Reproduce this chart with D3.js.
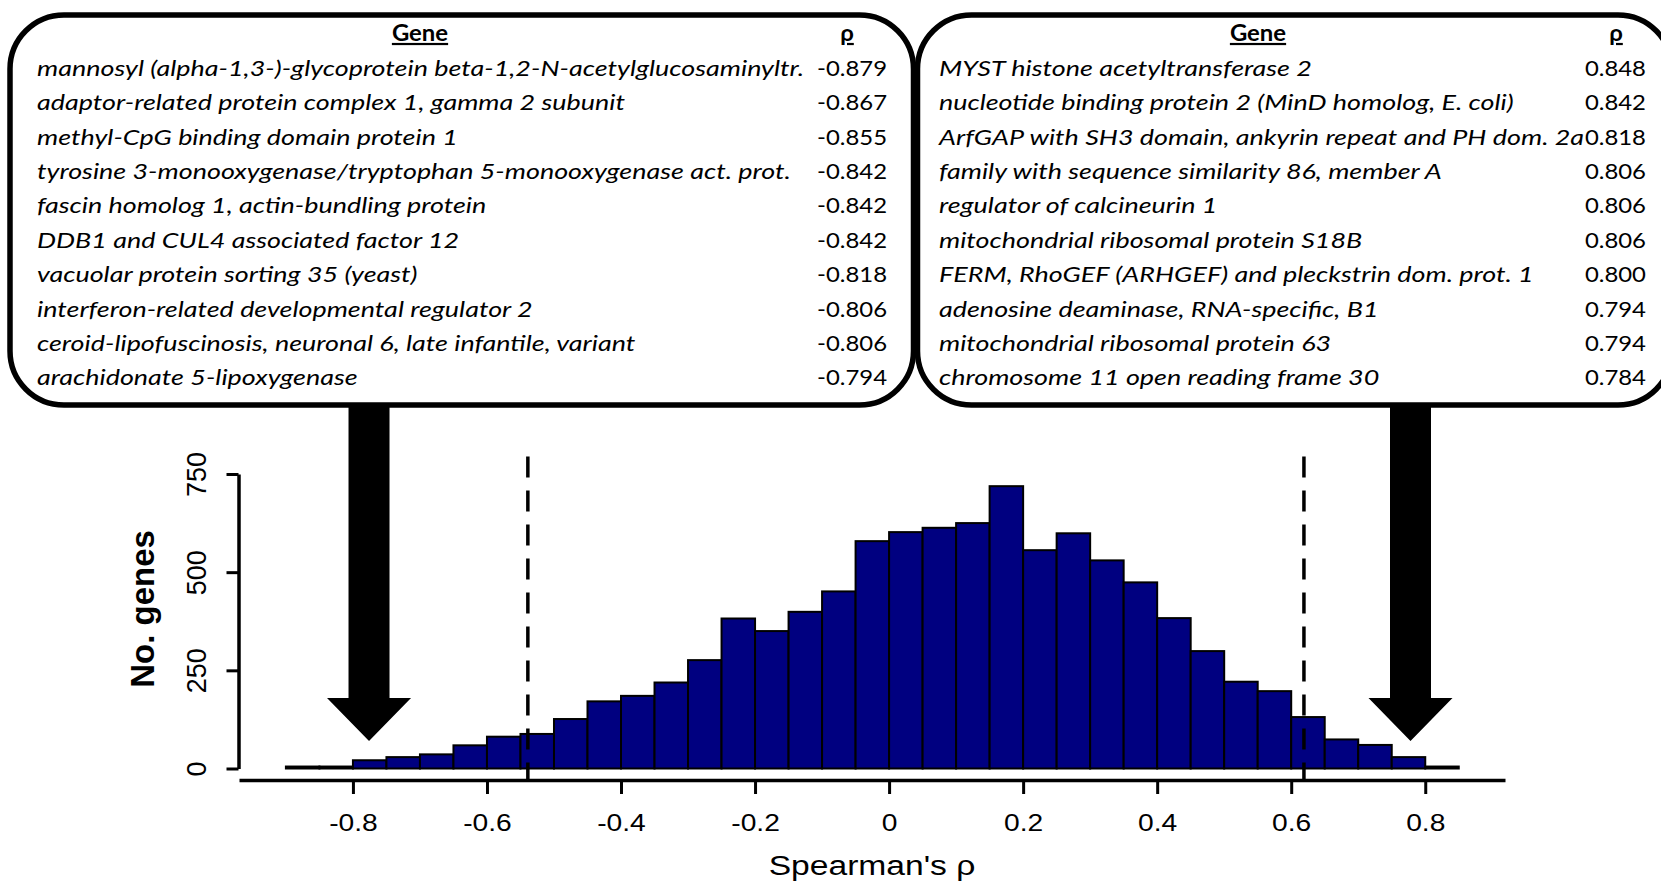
<!DOCTYPE html>
<html>
<head>
<meta charset="utf-8">
<script src="https://cdn.jsdelivr.net/npm/d3@7"></script>
<style>
body { margin: 0; background: #fff; }
svg { display: block; }
</style>
</head>
<body>
<div id="graph"></div>
<script>
// top correlated genes (left: negative, right: positive)
var negGenes = [
	'mannosyl (alpha-1,3-)-glycoprotein beta-1,2-N-acetylglucosaminyltr.',
	'adaptor-related protein complex 1, gamma 2 subunit',
	'methyl-CpG binding domain protein 1',
	'tyrosine 3-monooxygenase/tryptophan 5-monooxygenase act. prot.',
	'fascin homolog 1, actin-bundling protein',
	'DDB1 and CUL4 associated factor 12',
	'vacuolar protein sorting 35 (yeast)',
	'interferon-related developmental regulator 2',
	'ceroid-lipofuscinosis, neuronal 6, late infantile, variant',
	'arachidonate 5-lipoxygenase'
]
var negRho = ['-0.879', '-0.867', '-0.855', '-0.842', '-0.842', '-0.842', '-0.818', '-0.806', '-0.806', '-0.794']

var posGenes = [
	'MYST histone acetyltransferase 2',
	'nucleotide binding protein 2 (MinD homolog, E. coli)',
	'ArfGAP with SH3 domain, ankyrin repeat and PH dom. 2a',
	'family with sequence similarity 86, member A',
	'regulator of calcineurin 1',
	'mitochondrial ribosomal protein S18B',
	'FERM, RhoGEF (ARHGEF) and pleckstrin dom. prot. 1',
	'adenosine deaminase, RNA-specific, B1',
	'mitochondrial ribosomal protein 63',
	'chromosome 11 open reading frame 30'
]
var posRho = ['0.848', '0.842', '0.818', '0.806', '0.806', '0.806', '0.800', '0.794', '0.794', '0.784']

// histogram of Spearman's rho, bins of width 0.05
var binStarts = [-0.9, -0.85, -0.8, -0.75, -0.7, -0.65, -0.6, -0.55, -0.5, -0.45,
	-0.4, -0.35, -0.3, -0.25, -0.2, -0.15, -0.1, -0.05, 0, 0.05,
	0.1, 0.15, 0.2, 0.25, 0.3, 0.35, 0.4, 0.45, 0.5, 0.55,
	0.6, 0.65, 0.7, 0.75, 0.8]
var binCounts = [5, 5, 21, 29, 36, 59, 81, 88, 126, 171,
	185, 219, 276, 382, 350, 399, 451, 579, 602, 613,
	625, 719, 556, 599, 530, 474, 383, 299, 221, 197,
	131, 74, 60, 29, 5]
var binWidth = 0.05

var xTicks = [-0.8, -0.6, -0.4, -0.2, 0, 0.2, 0.4, 0.6, 0.8]
var yTicks = [0, 250, 500, 750]
var cutoffs = [-0.539, 0.619]
var arrowAt = [-0.776, 0.778]

var W = 1661, H = 884
var svg = d3.select('#graph').append('svg')
	.attr('width', W)
	.attr('height', H)

var x = d3.scaleLinear().domain([-0.970, 0.919]).range([239, 1505])
var y = d3.scaleLinear().domain([0, 750]).range([768.5, 474])

// ---- boxes with the gene tables
var boxes = [
	{ x0: 10, x1: 913.5, textLeft: 37, valRight: 887, geneX: 420, rhoX: 847, genes: negGenes, rho: negRho },
	{ x0: 917.5, x1: 1672, textLeft: 939, valRight: 1646, geneX: 1258, rhoX: 1616, genes: posGenes, rho: posRho }
]

svg.selectAll('rect.box')
	.data(boxes)
	.enter().append('rect')
	.attr('class', 'box')
	.attr('x', function(d) { return d.x0 })
	.attr('y', 15)
	.attr('width', function(d) { return d.x1 - d.x0 })
	.attr('height', 390)
	.attr('rx', 54)
	.attr('ry', 54)
	.attr('fill', '#fff')
	.attr('stroke', '#000')
	.attr('stroke-width', 5.5)

var tableFont = 'Lato, "Open Sans", "DejaVu Sans", sans-serif'

// work out a horizontal squeeze so the font matches the condensed original
var probe = svg.append('text')
	.attr('font-family', tableFont).attr('font-style', 'italic').attr('font-size', 22)
	.text(negGenes[0])
var kGene = 767 / probe.node().getComputedTextLength()
probe.attr('font-style', 'normal').text(negRho[0])
var kVal = 70 / probe.node().getComputedTextLength()
probe.remove()

var rowY = function(i) { return 75.7 + i * 34.4 }

boxes.forEach(function(b) {
	var g = svg.append('g')
		.attr('font-family', tableFont)
		.attr('font-size', 22)
		.attr('fill', '#000')

	g.append('text')
		.attr('transform', 'translate(' + b.geneX + ',41) scale(' + kVal + ',1)')
		.attr('text-anchor', 'middle')
		.attr('font-weight', 'bold')
		.attr('text-decoration', 'underline')
		.text('Gene')
	g.append('text')
		.attr('transform', 'translate(' + b.rhoX + ',41) scale(' + kVal + ',1)')
		.attr('text-anchor', 'middle')
		.attr('font-weight', 'bold')
		.attr('text-decoration', 'underline')
		.text('ρ')

	g.selectAll('text.gene')
		.data(b.genes)
		.enter().append('text')
		.attr('class', 'gene')
		.attr('font-style', 'italic')
		.attr('transform', function(d, i) { return 'translate(' + b.textLeft + ',' + rowY(i) + ') scale(' + kGene + ',1)' })
		.text(function(d) { return d })

	g.selectAll('text.val')
		.data(b.rho)
		.enter().append('text')
		.attr('class', 'val')
		.attr('text-anchor', 'end')
		.attr('transform', function(d, i) { return 'translate(' + b.valRight + ',' + rowY(i) + ') scale(' + kVal + ',1)' })
		.text(function(d) { return d })
})

// ---- arrows pointing from the tables to the tails
svg.selectAll('path.arrow')
	.data(arrowAt)
	.enter().append('path')
	.attr('class', 'arrow')
	.attr('d', function(v) {
		var cx = x(v)
		var p = d3.path()
		p.moveTo(cx - 20.5, 405)
		p.lineTo(cx + 20.5, 405)
		p.lineTo(cx + 20.5, 698)
		p.lineTo(cx + 42, 698)
		p.lineTo(cx, 741)
		p.lineTo(cx - 42, 698)
		p.lineTo(cx - 20.5, 698)
		p.closePath()
		return p.toString()
	})
	.attr('fill', '#000')

// ---- histogram
svg.selectAll('rect.bar')
	.data(binCounts)
	.enter().append('rect')
	.attr('class', 'bar')
	.attr('x', function(d, i) { return x(binStarts[i]) })
	.attr('width', function(d, i) { return x(binStarts[i] + binWidth) - x(binStarts[i]) })
	.attr('y', function(d) { return y(d) })
	.attr('height', function(d) { return y(0) - y(d) })
	.attr('fill', '#000080')
	.attr('stroke', '#000')
	.attr('stroke-width', 2)

// dashed cutoff lines
svg.selectAll('line.cut')
	.data(cutoffs)
	.enter().append('line')
	.attr('class', 'cut')
	.attr('x1', function(d) { return x(d) })
	.attr('x2', function(d) { return x(d) })
	.attr('y1', 456.5)
	.attr('y2', 780)
	.attr('stroke', '#000')
	.attr('stroke-width', 3.5)
	.attr('stroke-dasharray', '21,13')

// ---- axes
var axisFont = '"Liberation Sans", Arial, sans-serif'

var xAxis = svg.append('g')
	.attr('transform', 'translate(0,780)')
	.call(d3.axisBottom(x).tickValues(xTicks).tickSize(14).tickSizeOuter(0)
		.tickFormat(function(d) { return String(d) }))
xAxis.select('.domain').attr('stroke-width', 3.5)
xAxis.selectAll('.tick line').attr('stroke-width', 3)
xAxis.selectAll('.tick text')
	.attr('font-family', axisFont)
	.attr('font-size', 23.5)
	.attr('fill', '#000')
	.attr('dy', null)
	.attr('y', 0)
	.attr('transform', 'translate(0,50.7) scale(1.2,1)')

var yAxis = svg.append('g')
	.attr('transform', 'translate(238.5,0)')
	.call(d3.axisLeft(y).tickValues(yTicks).tickSize(12).tickSizeOuter(0))
yAxis.select('.domain').attr('stroke-width', 3.5)
yAxis.selectAll('.tick line').attr('stroke-width', 3)
yAxis.selectAll('.tick text')
	.attr('font-family', axisFont)
	.attr('font-size', 27)
	.attr('fill', '#000')
	.attr('text-anchor', 'middle')
	.attr('dy', null)
	.attr('x', 0)
	.attr('y', 0)
	.attr('transform', 'translate(-32.5,0) rotate(-90)')

svg.append('text')
	.attr('font-family', axisFont)
	.attr('font-size', 28)
	.attr('text-anchor', 'middle')
	.attr('transform', 'translate(872,875) scale(1.2,1)')
	.text("Spearman's ρ")

svg.append('text')
	.attr('font-family', axisFont)
	.attr('font-size', 33)
	.attr('font-weight', 'bold')
	.attr('text-anchor', 'middle')
	.attr('transform', 'translate(153.5,609) rotate(-90)')
	.text('No. genes')
</script>
</body>
</html>
